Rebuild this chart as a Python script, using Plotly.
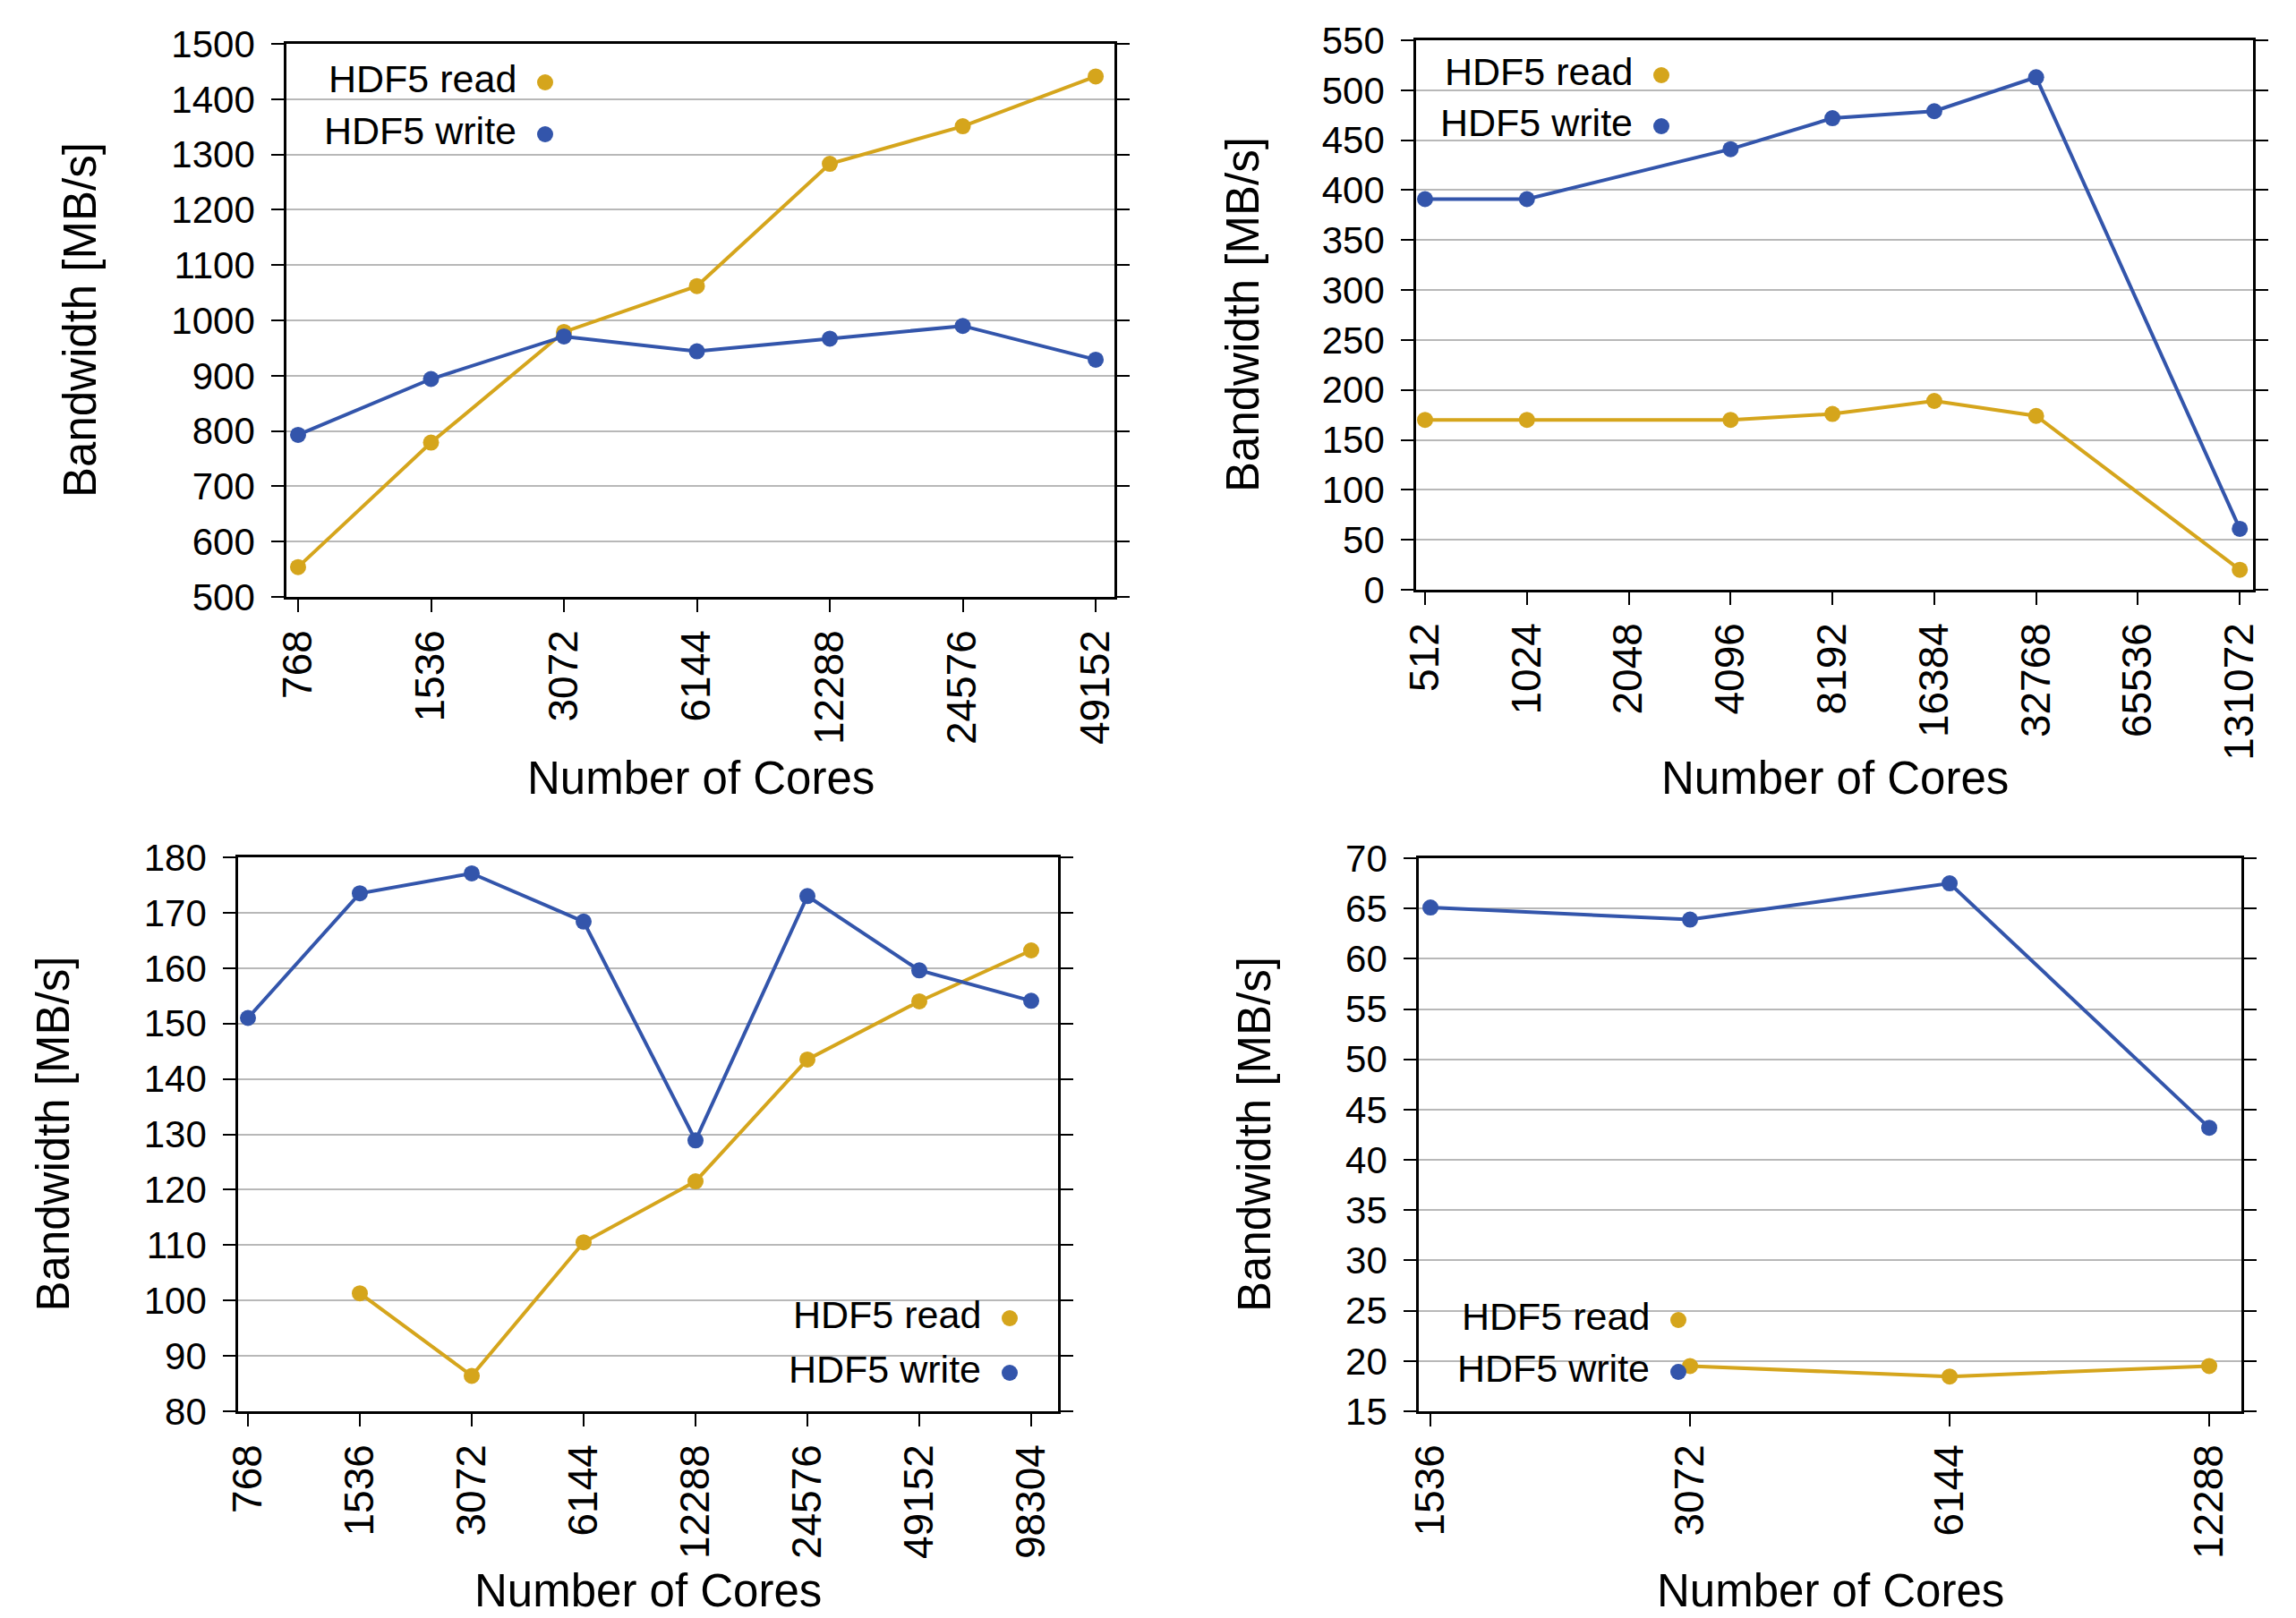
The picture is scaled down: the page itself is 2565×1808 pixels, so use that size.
import plotly.graph_objects as go

W, H = 2565, 1808
READ_COLOR = "#D5A51C"
WRITE_COLOR = "#3355AB"
FONT = "Liberation Sans, Arial, Helvetica, sans-serif"

# --- Panel A: 768..49152 cores ---
cores_a = ["768", "1536", "3072", "6144", "12288", "24576", "49152"]
read_a = [554, 779, 979, 1062, 1283, 1351, 1441]
write_a = [793, 894, 971, 944, 967, 990, 929]

# --- Panel B: 512..131072 cores (2048 and 65536 not measured) ---
cores_b = ["512", "1024", "2048", "4096", "8192", "16384", "32768", "65536", "131072"]
cores_b_meas = ["512", "1024", "4096", "8192", "16384", "32768", "131072"]
read_b = [170, 170, 170, 176, 189, 174, 20]
write_b = [391, 391, 441, 472, 479, 513, 61]

# --- Panel C: 768..98304 cores (no read at 768) ---
cores_c = ["768", "1536", "3072", "6144", "12288", "24576", "49152", "98304"]
write_c = [151, 173.5, 177.1, 168.4, 128.9, 173.0, 159.6, 154.1]
cores_c_read = ["1536", "3072", "6144", "12288", "24576", "49152", "98304"]
read_c = [101.3, 86.4, 110.5, 121.5, 143.5, 154.0, 163.2]

# --- Panel D: 1536..12288 cores (no read at 1536) ---
cores_d = ["1536", "3072", "6144", "12288"]
write_d = [65.1, 63.9, 67.5, 43.2]
cores_d_read = ["3072", "6144", "12288"]
read_d = [19.5, 18.45, 19.5]

# pixel boxes of each plotting area (left, right, top, bottom), axis ranges,
# legend geometry (marker x, read marker y, write marker y, box l, r, t, b),
# and y-title / x-title centres
panels = [
    dict(box=(320, 1245, 49, 667), xr=(-0.0875, 6.141), yr=(500, 1500), dy=100,
         cats=cores_a,
         series=[(cores_a, read_a, READ_COLOR, "HDF5 read"),
                 (cores_a, write_a, WRITE_COLOR, "HDF5 write")],
         leg=(609, 92, 150, 344, 640, 58, 198), ytx=90, xty=869),
    dict(box=(1582, 2517, 45, 659), xr=(-0.088, 8.13), yr=(0, 550), dy=50,
         cats=cores_b,
         series=[(cores_b_meas, read_b, READ_COLOR, "HDF5 read"),
                 (cores_b_meas, write_b, WRITE_COLOR, "HDF5 write")],
         leg=(1856, 84, 141, 1607, 1884, 52, 182), ytx=1389, xty=870),
    dict(box=(266, 1182, 958, 1577), xr=(-0.088, 7.24), yr=(80, 180), dy=10,
         cats=cores_c,
         series=[(cores_c_read, read_c, READ_COLOR, "HDF5 read"),
                 (cores_c, write_c, WRITE_COLOR, "HDF5 write")],
         leg=(1128, 1473, 1534, 862, 1158, 1425, 1568), ytx=59, xty=1777),
    dict(box=(1585, 2504, 959, 1577), xr=(-0.045, 3.124), yr=(15, 70), dy=5,
         cats=cores_d,
         series=[(cores_d_read, read_d, READ_COLOR, "HDF5 read"),
                 (cores_d, write_d, WRITE_COLOR, "HDF5 write")],
         leg=(1875, 1475, 1533, 1608, 1905, 1425, 1568), ytx=1401, xty=1777),
]

fig = go.Figure()
shapes = []
annotations = []
layout = dict(
    width=W, height=H,
    margin=dict(l=0, r=0, t=0, b=0, autoexpand=False),
    paper_bgcolor="white", plot_bgcolor="white",
    showlegend=False,
    font=dict(family=FONT, color="black"),
)


def px_x(v):
    return v / W


def px_y(v):
    return 1 - v / H


for i, p in enumerate(panels, start=1):
    xa = "x" if i == 1 else f"x{i}"
    ya = "y" if i == 1 else f"y{i}"
    l, r, t, b = p["box"]
    for xs, ys, color, name in p["series"]:
        fig.add_trace(go.Scatter(
            x=xs, y=ys, name=name, mode="lines+markers",
            line=dict(color=color, width=4),
            marker=dict(color=color, size=18),
            xaxis=xa, yaxis=ya, cliponaxis=False,
        ))
    layout["xaxis" if i == 1 else f"xaxis{i}"] = dict(
        domain=[px_x(l), px_x(r)], anchor=ya, automargin=False,
        type="category", categoryorder="array", categoryarray=p["cats"],
        range=list(p["xr"]),
        tickmode="array", tickvals=p["cats"], ticktext=p["cats"],
        tickangle=-90, tickfont=dict(size=46, family=FONT, color="black"),
        ticks="outside", ticklen=14, tickwidth=2.4, tickcolor="black",
        showline=True, linecolor="black", linewidth=2.6, mirror=True,
        showgrid=False, zeroline=False, ticklabelstandoff=2,
    )
    layout["yaxis" if i == 1 else f"yaxis{i}"] = dict(
        domain=[px_y(b), px_y(t)], anchor=xa, automargin=False,
        range=list(p["yr"]), dtick=p["dy"], tick0=p["yr"][0],
        tickfont=dict(size=42, family=FONT, color="black"),
        ticks="outside", ticklen=14, tickwidth=2.4, tickcolor="black",
        showline=True, linecolor="black", linewidth=2.6, mirror="ticks",
        showgrid=True, gridcolor="#B8B8B8", gridwidth=1.5, zeroline=False,
        ticklabelstandoff=10,
    )

    # legend panel: white box, labels and round swatches
    mx, ry, wy, bl, br, bt, bb = p["leg"]
    shapes.append(dict(type="rect", xref="paper", yref="paper",
                       x0=px_x(bl), x1=px_x(br), y0=px_y(bb), y1=px_y(bt),
                       fillcolor="white", line=dict(width=0), layer="between"))
    for (cy, color, name) in [(ry, READ_COLOR, "HDF5 read"),
                              (wy, WRITE_COLOR, "HDF5 write")]:
        shapes.append(dict(type="circle", xref="paper", yref="paper",
                           x0=px_x(mx - 9), x1=px_x(mx + 9),
                           y0=px_y(cy + 9), y1=px_y(cy - 9),
                           fillcolor=color, line=dict(width=0), layer="above"))
        annotations.append(dict(text=name, xref="paper", yref="paper",
                                x=px_x(mx - 30), y=px_y(cy - 4),
                                xanchor="right", yanchor="middle",
                                showarrow=False,
                                font=dict(size=43, family=FONT, color="black")))

    # axis titles
    annotations.append(dict(text="Bandwidth [MB/s]", xref="paper", yref="paper",
                            x=px_x(p["ytx"]), y=px_y((t + b) / 2),
                            textangle=-90, xanchor="center", yanchor="middle",
                            showarrow=False,
                            font=dict(size=51, family=FONT, color="black")))
    annotations.append(dict(text="Number of Cores", xref="paper", yref="paper",
                            x=px_x((l + r) / 2), y=px_y(p["xty"]),
                            xanchor="center", yanchor="middle",
                            showarrow=False,
                            font=dict(size=51, family=FONT, color="black")))

layout["shapes"] = shapes
layout["annotations"] = annotations
fig.update_layout(**layout)
fig.write_html("out.html")
